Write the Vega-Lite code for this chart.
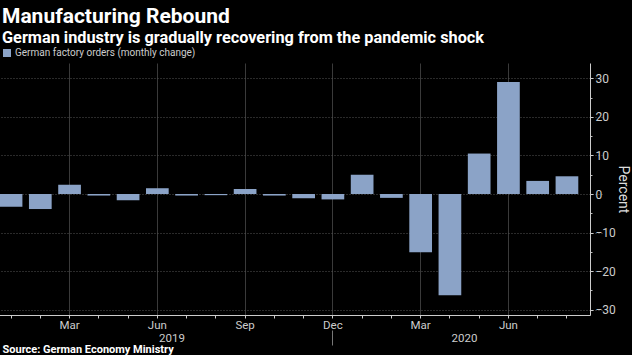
{
  "$schema": "https://vega.github.io/schema/vega-lite/v6.json",
  "width": 590,
  "height": 252,
  "autosize": "none",
  "padding": {"left": 0, "top": 63, "right": 42, "bottom": 40},
  "background": "#000000",
  "config": {"view": {"stroke": null}, "font": "Roboto"},
  "title": {
    "text": "Manufacturing Rebound",
    "subtitle": "German industry is gradually recovering from the pandemic shock",
    "anchor": "start",
    "frame": "group",
    "dx": 2,
    "offset": 2,
    "font": "Roboto",
    "fontSize": 21,
    "fontWeight": "bold",
    "color": "#ffffff",
    "subtitleFont": "Roboto",
    "subtitleFontSize": 16.3,
    "subtitleFontWeight": "bold",
    "subtitleColor": "#ffffff",
    "subtitlePadding": 3
  },
  "data": {
    "values": [
      {"month": "2019-01", "value": -3.3},
      {"month": "2019-02", "value": -3.9},
      {"month": "2019-03", "value": 2.4},
      {"month": "2019-04", "value": -0.4},
      {"month": "2019-05", "value": -1.6},
      {"month": "2019-06", "value": 1.5},
      {"month": "2019-07", "value": -0.4},
      {"month": "2019-08", "value": -0.3},
      {"month": "2019-09", "value": 1.3},
      {"month": "2019-10", "value": -0.4},
      {"month": "2019-11", "value": -1.1},
      {"month": "2019-12", "value": -1.4},
      {"month": "2020-01", "value": 5.0},
      {"month": "2020-02", "value": -1.0},
      {"month": "2020-03", "value": -15.1},
      {"month": "2020-04", "value": -26.3},
      {"month": "2020-05", "value": 10.5},
      {"month": "2020-06", "value": 29.1},
      {"month": "2020-07", "value": 3.4},
      {"month": "2020-08", "value": 4.6}
    ]
  },
  "resolve": {"axis": {"x": "independent", "y": "independent"}},
  "layer": [
    {
      "mark": {"type": "bar", "opacity": 0},
      "encoding": {
        "x": {
          "field": "month", "type": "ordinal", "sort": "ascending",
          "scale": {"range": [-12, 590], "paddingInner": 0.224, "paddingOuter": 0.4},
          "axis": {
            "orient": "bottom",
            "values": ["2019-03", "2019-06", "2019-09", "2019-12", "2020-03", "2020-06"],
            "bandPosition": 0.5,
            "grid": true, "gridColor": "#3a3a3a", "gridWidth": 1,
            "labels": false, "ticks": false, "domain": false, "title": null
          }
        },
        "y": {
          "field": "value", "type": "quantitative",
          "scale": {"domain": [-31.4, 34], "nice": false, "zero": false},
          "axis": {
            "orient": "right",
            "values": [-25, -15, -5, 5, 15, 25],
            "grid": false, "labels": false, "domain": false,
            "ticks": true, "tickSize": 2, "tickColor": "#bbbbbb", "title": null
          }
        }
      }
    },
    {
      "mark": {"type": "bar", "color": "#8ba3c7"},
      "encoding": {
        "x": {
          "field": "month", "type": "ordinal", "sort": "ascending",
          "axis": {
            "orient": "bottom",
            "bandPosition": 0.5,
            "grid": false,
            "labelExpr": "substring(datum.value,5,7)=='03' ? 'Mar' : substring(datum.value,5,7)=='06' ? 'Jun' : substring(datum.value,5,7)=='09' ? 'Sep' : substring(datum.value,5,7)=='12' ? 'Dec' : ''",
            "labelAngle": 0,
            "labelColor": "#cccccc",
            "labelFontSize": 11.5,
            "labelPadding": 1,
            "tickColor": "#cccccc",
            "tickSize": 3,
            "domainColor": "#cccccc",
            "title": null
          }
        },
        "y": {
          "field": "value", "type": "quantitative",
          "axis": {
            "orient": "right",
            "values": [-30, -20, -10, 0, 10, 20, 30],
            "grid": true, "gridColor": "#555555", "gridDash": [1, 2],
            "labelColor": "#cccccc", "labelFontSize": 12, "labelPadding": 2,
            "tickColor": "#cccccc", "tickSize": 3,
            "domainColor": "#cccccc",
            "title": "Percent", "titleAngle": 90, "titleColor": "#dddddd",
            "titleFontSize": 14, "titleFontWeight": "normal", "titlePadding": 0
          }
        },
        "color": {
          "datum": "German factory orders (monthly change)",
          "type": "nominal",
          "scale": {"range": ["#8ba3c7"]},
          "legend": {
            "orient": "none", "legendX": 2, "legendY": -15,
            "title": null, "symbolType": "square", "symbolSize": 64,
            "symbolStrokeWidth": 0, "labelColor": "#cccccc",
            "labelFontSize": 10, "labelOffset": 3, "labelLimit": 400
          }
        }
      }
    },
    {
      "mark": {"type": "bar", "opacity": 0},
      "encoding": {
        "x": {
          "field": "month", "type": "ordinal", "sort": "ascending",
          "axis": {
            "orient": "bottom",
            "values": ["2019-06", "2020-04"],
            "bandPosition": 0.5,
            "labelExpr": "substring(datum.value,0,4)",
            "labelOffset": 14.6,
            "labelAngle": 0,
            "labelColor": "#cccccc",
            "labelFontSize": 11.5,
            "labelPadding": 0,
            "offset": 17,
            "ticks": false, "domain": false, "grid": false,
            "title": "Source: German Economy Ministry",
            "titleX": 2,
            "titleAlign": "left",
            "titleAnchor": "start",
            "titleFontSize": 11,
            "titleFontWeight": "bold",
            "titleColor": "#ffffff",
            "titlePadding": 0
          }
        },
        "y": {"field": "value", "type": "quantitative", "axis": null}
      }
    },
    {
      "mark": {"type": "bar", "opacity": 0},
      "encoding": {
        "x": {
          "field": "month", "type": "ordinal", "sort": "ascending",
          "axis": {
            "orient": "bottom",
            "values": ["2019-12"],
            "bandPosition": 0.5,
            "labels": false, "domain": false, "grid": false,
            "ticks": true, "tickSize": 15, "tickColor": "#777777",
            "offset": 15, "title": null
          }
        },
        "y": {"field": "value", "type": "quantitative", "axis": null}
      }
    }
  ]
}
